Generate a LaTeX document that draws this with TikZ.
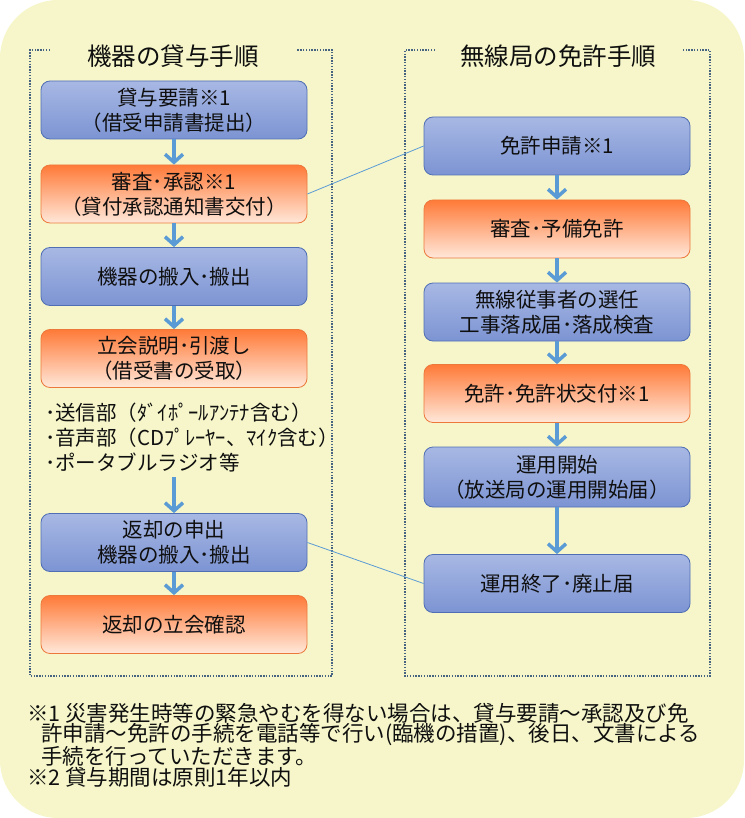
\documentclass[tikz,border=0pt]{standalone}
\usepackage{fontspec}
\setmainfont{Noto Sans CJK JP}
\usetikzlibrary{arrows.meta}
\definecolor{bg}{RGB}{246,246,202}
\definecolor{bluetop}{RGB}{168,184,228}
\definecolor{bluebot}{RGB}{124,148,211}
\definecolor{blueline}{RGB}{80,110,180}
\definecolor{orgtop}{RGB}{255,122,56}
\definecolor{orgbot}{RGB}{255,232,218}
\definecolor{orgline}{RGB}{236,120,60}
\definecolor{arrowc}{RGB}{91,155,213}
\definecolor{framec}{RGB}{70,100,130}
\definecolor{txt}{RGB}{15,15,15}
\tikzset{
 box/.style={rounded corners=9pt, minimum width=266pt, minimum height=58pt, inner sep=0pt, align=center, font=\fontsize{20.5}{25}\selectfont, line width=0.8pt, text=txt},
 bluebox/.style={box, draw=blueline, top color=bluetop, bottom color=bluebot},
 orangebox/.style={box, draw=orgline, top color=orgtop, bottom color=orgbot},
 flow/.style={draw=arrowc, line width=3.5pt, -{Straight Barb[length=8pt,width=18pt]}},
 link/.style={draw=arrowc, line width=0.8pt},
 frame/.style={draw=framec, line width=1.4pt, dash pattern=on 1.4pt off 1.4pt},
 title/.style={font=\fontsize{24.5}{28}\selectfont, inner sep=0pt, text=txt},
 note/.style={font=\fontsize{21.5}{21.5}\selectfont, anchor=west, inner sep=0pt, text=txt},
}
\begin{document}
\begin{tikzpicture}[x=1pt,y=-1pt]
\useasboundingbox (0,0) rectangle (744,818);
\fill[bg, rounded corners=58pt] (0,0) rectangle (744,818);
% frames
\draw[frame] (50,50) -- (30,50) -- (30,676) -- (332,676) -- (332,50) -- (297,50);
\draw[frame] (435,50) -- (405,50) -- (405,676) -- (710,676) -- (710,50) -- (683,50);
\node[title] (tl) at (173,56) {機器の貸与手順};
\node[title] (tr) at (558,56) {無線局の免許手順};
% left column
\node[bluebox] (L1) at (174,110) {貸与要請※1\\（借受申請書提出）};
\node[orangebox] (L2) at (174,194) {審査･承認※1\\（貸付承認通知書交付）};
\node[bluebox] (L3) at (174,276.5) {機器の搬入･搬出};
\node[orangebox] (L4) at (174,358.5) {立会説明･引渡し\\（借受書の受取）};
\node[anchor=west, inner sep=0pt, align=left, font=\fontsize{20.5}{25}\selectfont, text=txt] (items) at (45,438)
 {･送信部（ﾀﾞｲﾎﾟｰﾙｱﾝﾃﾅ含む）\\･音声部（CDﾌﾟﾚｰﾔｰ、ﾏｲｸ含む）\\･ポータブルラジオ等};
\coordinate (itemsEnd) at (174,477);
\node[bluebox] (L5) at (174,542.5) {返却の申出\\機器の搬入･搬出};
\node[orangebox] (L6) at (174,624.5) {返却の立会確認};
% right column
\node[bluebox] (R1) at (557,146) {免許申請※1};
\node[orangebox] (R2) at (557,229) {審査･予備免許};
\node[bluebox] (R3) at (557,312) {無線従事者の選任\\工事落成届･落成検査};
\node[orangebox] (R4) at (557,393.5) {免許･免許状交付※1};
\node[bluebox, minimum height=60pt] (R5) at (557,477) {運用開始\\（放送局の運用開始届）};
\node[bluebox] (R6) at (557,583.5) {運用終了･廃止届};
% arrows
\draw[flow] (L1) -- (L2);
\draw[flow] (L2) -- (L3);
\draw[flow] (L3) -- (L4);
\draw[flow] (itemsEnd) -- (L5);
\draw[flow] (L5) -- (L6);
\draw[flow] (R1) -- (R2);
\draw[flow] (R2) -- (R3);
\draw[flow] (R3) -- (R4);
\draw[flow] (R4) -- (R5);
\draw[flow] (R5) -- (R6);
% links
\draw[link] (L2.east) -- (R1.west);
\draw[link] (L5.east) -- (R6.west);
% notes
\node[note] (n1) at (27,713) {※1 災害発生時等の緊急やむを得ない場合は、貸与要請～承認及び免};
\node[note] (n2) at (41,734.5) {許申請～免許の手続を電話等で行い(臨機の措置)、後日、文書による};
\node[note] (n3) at (41,756) {手続を行っていただきます。};
\node[note] (n4) at (27,777) {※2 貸与期間は原則1年以内};
\end{tikzpicture}
\end{document}
